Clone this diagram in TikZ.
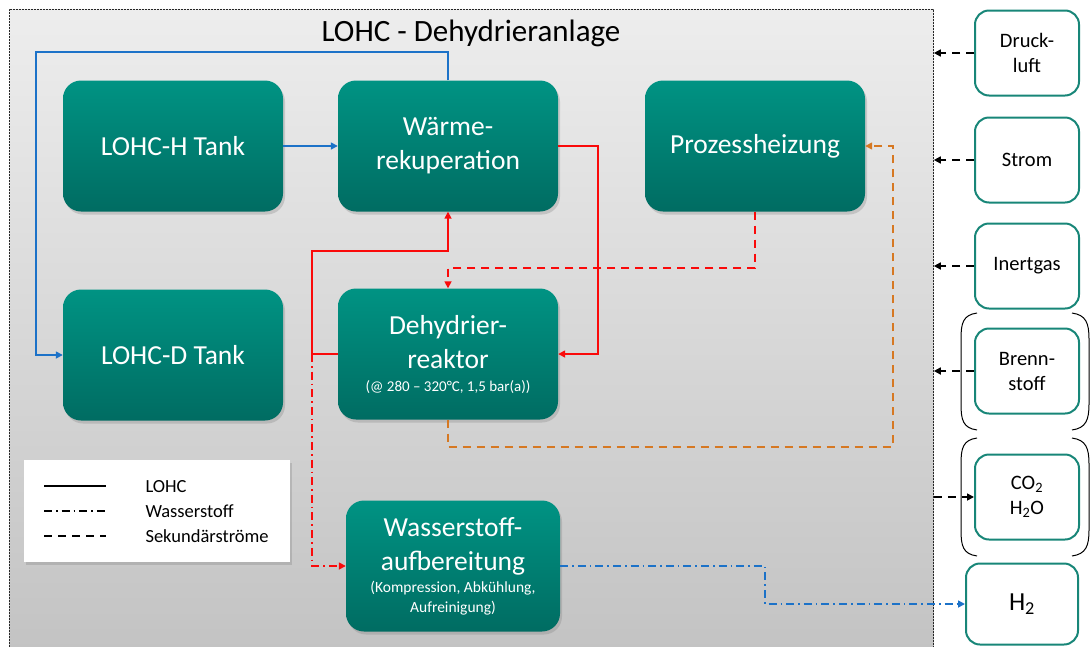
\documentclass[tikz,border=0pt]{standalone}
\usepackage{fontspec}
\setmainfont{Carlito}
\usetikzlibrary{arrows.meta,shadows}
\definecolor{tealtop}{RGB}{0,147,131}
\definecolor{tealbot}{RGB}{0,108,98}
\definecolor{tealline}{RGB}{24,134,120}
\definecolor{lohcred}{RGB}{250,10,10}
\definecolor{lohcblue}{RGB}{28,114,200}
\definecolor{lohcorange}{RGB}{214,120,34}

\begin{document}
\begin{tikzpicture}[x=1pt,y=-1pt,
  unit/.style={rounded corners=18pt,top color=tealtop,bottom color=tealbot,text=white,align=center,
    minimum width=220pt,minimum height=131pt,inner sep=2pt,font=\fontsize{27.5}{34}\selectfont,
    drop shadow={opacity=.3,shadow xshift=2pt,shadow yshift=-3pt}},
  supply/.style={draw=tealline,line width=2pt,rounded corners=14pt,fill=white,
    minimum width=104pt,minimum height=85pt,align=center,font=\fontsize{20.5}{25}\selectfont},
  tip/.style={-{Triangle[length=7pt,width=7pt]}},
  lohc/.style={tip,line width=1.6pt},
  htwo/.style={tip,line width=1.6pt,dash pattern=on 8pt off 4pt on 1.6pt off 4pt},
  side/.style={tip,line width=1.6pt,dash pattern=on 8pt off 6pt}]
\useasboundingbox (0,0) rectangle (1090,646);
\node[anchor=north west,minimum width=924pt,minimum height=660pt,top color=black!7,bottom color=black!24,
  draw=black!85,line width=.8pt,dash pattern=on 2pt off 1pt] (anlage) at (9,9) {};
\node[font=\fontsize{31}{36}\selectfont] (titel) at (471,33) {LOHC - Dehydrieranlage};

\node[unit] (htank) at (173,146) {LOHC-H Tank};
\node[unit] (waerme) at (448,146) {Wärme-\\rekuperation};
\node[unit] (heizung) at (755,146) {Prozessheizung};
\node[unit] (dtank) at (173,355) {LOHC-D Tank};
\node[unit] (reaktor) at (448,354) {Dehydrier-\\reaktor\\[-11pt]{\fontsize{15}{17}\selectfont (@ 280 – 320°C, 1,5 bar(a))}};
\node[unit,minimum width=214pt] (aufber) at (453,566) {Wasserstoff-\\aufbereitung\\[-12pt]{\fontsize{15.5}{19}\selectfont (Kompression, Abkühlung,}\\[-14pt]{\fontsize{15.5}{19}\selectfont Aufreinigung)}};

% legende
\node[anchor=north west,fill=white,minimum width=266pt,minimum height=102pt,
  drop shadow={opacity=.3,shadow xshift=2pt,shadow yshift=-3pt}] (legende) at (24,460) {};
\draw[line width=1.6pt] (44,486) -- (106,486);
\draw[line width=1.6pt,dash pattern=on 8pt off 4pt on 1.6pt off 4pt] (44,511) -- (106,511);
\draw[line width=1.6pt,dash pattern=on 8pt off 6pt] (44,536) -- (106,536);
\node[anchor=west,font=\fontsize{18.5}{22}\selectfont] (l1) at (142,487) {LOHC};
\node[anchor=west,font=\fontsize{18.5}{22}\selectfont] (l2) at (142,511) {Wasserstoff};
\node[anchor=west,font=\fontsize{18.5}{22}\selectfont] (l3) at (142,536) {Sekundärströme};

% versorgung
\foreach \n/\y/\t in {druckluft/53/{Druck-\\luft},strom/160/{Strom},inertgas/266/{Inertgas},brennstoff/371/{Brenn-\\stoff},abgas/497/{CO\textsubscript{2}\\H\textsubscript{2}O}}
  \node[supply] (\n) at (1027,\y) {\t};
\node[supply,minimum width=112pt,minimum height=81pt,font=\fontsize{26}{30}\selectfont] (wasserstoff) at (1022,604) {H\textsubscript{2}};
\foreach \y/\b in {313/430,438/556} {
  \draw[line width=1pt] (977,\y) .. controls (963,\y+2) and (961,\y+10) .. (961,\y+26) -- (961,\b-26) .. controls (961,\b-10) and (963,\b-2) .. (977,\b);
  \draw[line width=1pt] (1072,\y) .. controls (1086,\y+2) and (1089,\y+10) .. (1089,\y+26) -- (1089,\b-26) .. controls (1089,\b-10) and (1086,\b-2) .. (1072,\b);
}
\foreach \n in {druckluft,strom,inertgas,brennstoff}
  \draw[side] (\n.west) -- (\n.west -| anlage.east);
\draw[side] (abgas.west -| anlage.east) -- (abgas.west);

% LOHC
\coordinate (bluecorner) at (36,52);
\coordinate (redright) at (598,146);
\coordinate (split) at (312,354);
\coordinate (redup) at (448,251);
\draw[lohc,lohcblue] (htank) -- (waerme);
\draw[lohc,lohcblue] (waerme.north) |- (bluecorner) |- (dtank.west);
\draw[lohc,lohcred] (waerme.east) -- (redright) |- (reaktor.east);
\draw[lohc,lohcred] (reaktor.west) -- (split) |- (redup) -- (waerme.south);
% wasserstoff
\coordinate (bluestep) at (765,566);
\draw[htwo,lohcred] (split) |- (aufber.west);
\draw[htwo,lohcblue] (aufber.east) -- (bluestep) |- (wasserstoff.west);
% sekundaer
\coordinate (heatdown) at (448,268);
\coordinate (orangecorner) at (893,447);
\draw[side,lohcred] (heizung.south) |- (heatdown) -- (reaktor.north);
\draw[side,lohcorange] (reaktor.south) |- (orangecorner) |- (heizung.east);
\end{tikzpicture}
\end{document}
